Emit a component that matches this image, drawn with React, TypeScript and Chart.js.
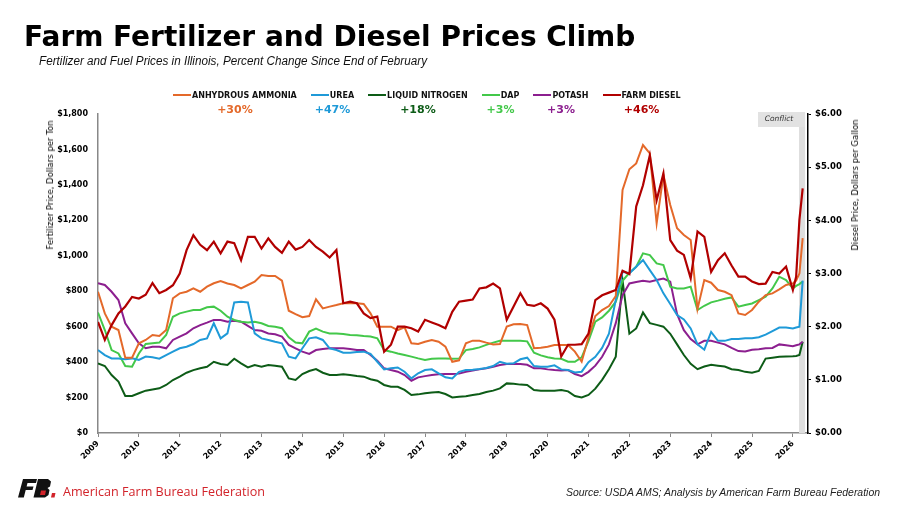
import React, { useEffect, useLayoutEffect, useRef } from 'react';
import { Chart, registerables } from 'chart.js';

Chart.register(...registerables);

// ---------- DATA ----------
const dates = [
  2009.0, 2009.167, 2009.333, 2009.5, 2009.667, 2009.833,
  2010.0, 2010.167, 2010.333, 2010.5, 2010.667, 2010.833,
  2011.0, 2011.167, 2011.333, 2011.5, 2011.667, 2011.833,
  2012.0, 2012.167, 2012.333, 2012.5, 2012.667, 2012.833,
  2013.0, 2013.167, 2013.333, 2013.5, 2013.667, 2013.833,
  2014.0, 2014.167, 2014.333, 2014.5, 2014.667, 2014.833,
  2015.0, 2015.167, 2015.333, 2015.5, 2015.667, 2015.833,
  2016.0, 2016.167, 2016.333, 2016.5, 2016.667, 2016.833,
  2017.0, 2017.167, 2017.333, 2017.5, 2017.667, 2017.833,
  2018.0, 2018.167, 2018.333, 2018.5, 2018.667, 2018.833,
  2019.0, 2019.167, 2019.333, 2019.5, 2019.667, 2019.833,
  2020.0, 2020.167, 2020.333, 2020.5, 2020.667, 2020.833,
  2021.0, 2021.167, 2021.333, 2021.5, 2021.667, 2021.833,
  2022.0, 2022.167, 2022.333, 2022.5, 2022.667, 2022.833,
  2023.0, 2023.167, 2023.333, 2023.5, 2023.667, 2023.833,
  2024.0, 2024.167, 2024.333, 2024.5, 2024.667, 2024.833,
  2025.0, 2025.167, 2025.333, 2025.5, 2025.667, 2025.833,
  2026.0, 2026.08, 2026.16, 2026.24,
];

// Fertilizer prices, dollars per ton
const anhydrousAmmonia = [
  797, 675, 600, 581, 425, 425, 506, 525, 553, 547,
  581, 760, 788, 797, 816, 797, 826, 845, 858, 844,
  835, 816, 835, 854, 891, 886, 886, 860, 690, 671,
  653, 660, 754, 703, 713, 722, 732, 732, 732, 728,
  675, 600, 600, 600, 581, 596, 506, 502, 515, 525,
  515, 487, 402, 410, 506, 521, 521, 510, 500, 502,
  600, 613, 615, 609, 478, 481, 487, 497, 497, 497,
  459, 402, 540, 660, 694, 716, 773, 1371, 1488, 1521,
  1625, 1578, 1183, 1456, 1286, 1155, 1117, 1089, 700, 863,
  848, 807, 797, 778, 675, 666, 694, 741, 778, 788,
  810, 835, 844, 860, 900, 1100,
];

const urea = [
  468, 440, 421, 421, 416, 421, 412, 431, 427, 419,
  440, 459, 478, 487, 502, 525, 534, 619, 534, 562,
  737, 741, 737, 562, 534, 525, 515, 506, 431, 421,
  478, 534, 540, 525, 478, 468, 453, 453, 457, 459,
  446, 402, 359, 365, 370, 346, 308, 337, 355, 359,
  337, 314, 308, 345, 355, 357, 361, 367, 378, 402,
  391, 393, 416, 425, 378, 374, 374, 382, 359, 355,
  342, 346, 400, 430, 480, 560, 750, 910, 901, 938,
  976, 919, 863, 788, 728, 666, 641, 590, 500, 470,
  570, 520, 520, 530, 530, 535, 535, 540, 555, 575,
  595, 595, 590, 595, 600, 860,
];

const liquidNitrogen = [
  393, 378, 327, 290, 209, 209, 224, 239, 246, 252,
  271, 299, 318, 340, 355, 365, 374, 402, 389, 384,
  419, 393, 370, 384, 374, 384, 380, 374, 308, 299,
  333, 350, 361, 340, 327, 327, 331, 327, 321, 318,
  303, 295, 271, 261, 261, 243, 214, 218, 224, 229,
  231, 220, 201, 205, 207, 214, 220, 231, 239, 252,
  280, 278, 273, 271, 243, 239, 239, 239, 243, 235,
  209, 201, 215, 250, 300, 360, 430, 860, 560, 590,
  680, 620, 610, 600, 560, 500, 440, 390, 360, 375,
  385, 380, 375, 360, 355, 345, 340, 350, 420, 425,
  430, 432, 433, 435, 440, 515,
];

const dap = [
  680, 581, 468, 449, 378, 374, 449, 502, 506, 510,
  553, 656, 675, 685, 694, 694, 709, 713, 690, 656,
  638, 628, 623, 628, 619, 604, 600, 591, 540, 510,
  506, 572, 589, 572, 562, 562, 559, 553, 551, 547,
  544, 534, 468, 459, 449, 440, 431, 421, 412, 419,
  421, 421, 419, 420, 468, 474, 483, 497, 510, 521,
  521, 521, 521, 517, 453, 438, 427, 421, 419, 402,
  402, 427, 520, 628, 652, 690, 741, 859, 904, 938,
  1014, 1004, 957, 948, 826, 816, 816, 826, 694, 718,
  737, 747, 758, 765, 713, 722, 731, 750, 769, 816,
  882, 863, 816, 830, 840, 855,
];

const potash = [
  845, 835, 797, 750, 619, 562, 506, 478, 487, 487,
  478, 525, 544, 562, 591, 609, 623, 638, 638, 628,
  634, 628, 604, 581, 577, 562, 557, 544, 497, 478,
  459, 446, 468, 474, 478, 478, 478, 474, 468, 468,
  440, 408, 365, 355, 346, 327, 295, 314, 321, 327,
  331, 333, 333, 335, 346, 352, 359, 365, 374, 384,
  389, 389, 389, 385, 365, 365, 359, 355, 352, 355,
  333, 321, 345, 380, 430, 500, 620, 778, 844, 852,
  859, 854, 863, 871, 854, 671, 580, 530, 500, 520,
  520, 510, 500, 480, 462, 460, 470, 472, 478, 480,
  500, 495, 490, 495, 500, 515,
];

// Diesel price, dollars per gallon
const farmDiesel = [
  2.09, 1.75, 2.03, 2.25, 2.38, 2.56, 2.53, 2.60, 2.82, 2.63,
  2.69, 2.78, 3.00, 3.44, 3.72, 3.54, 3.44, 3.60, 3.38, 3.60,
  3.57, 3.25, 3.69, 3.69, 3.47, 3.66, 3.50, 3.39, 3.60, 3.45,
  3.50, 3.63, 3.50, 3.41, 3.30, 3.44, 2.44, 2.47, 2.44, 2.25,
  2.16, 2.19, 1.53, 1.66, 2.00, 2.00, 1.97, 1.91, 2.13, 2.08,
  2.03, 1.97, 2.28, 2.47, 2.49, 2.51, 2.72, 2.74, 2.81, 2.72,
  2.13, 2.38, 2.63, 2.41, 2.39, 2.44, 2.34, 2.13, 1.44, 1.66,
  1.66, 1.67, 1.87, 2.50, 2.59, 2.64, 2.69, 3.05, 2.99, 4.26,
  4.66, 5.22, 4.38, 4.88, 3.63, 3.43, 3.35, 2.91, 3.79, 3.69,
  3.03, 3.25, 3.38, 3.15, 2.94, 2.94, 2.85, 2.80, 2.81, 3.03,
  3.00, 3.13, 2.69, 2.94, 4.01, 4.60,
];

const yearTicks = [
  2009, 2010, 2011, 2012, 2013, 2014, 2015, 2016, 2017,
  2018, 2019, 2020, 2021, 2022, 2023, 2024, 2025, 2026,
];

const seriesNames = ['ANHYDROUS AMMONIA', 'UREA', 'LIQUID NITROGEN', 'DAP', 'POTASH', 'FARM DIESEL'];
const percentChanges = ['+30%', '+47%', '+18%', '+3%', '+3%', '+46%'];
const conflictStart = 2026.15;
const conflictEnd = 2026.3;
const conflictLabel = 'Conflict';

// ---------- STYLE ----------
const seriesColors = ['#E4692A', '#1F9AD8', '#0D5C17', '#43C84A', '#8C1F8F', '#B10000'];
const FONT = '"DejaVu Sans", Verdana, sans-serif';

function FitText({ width, style, children }: { width: number; style?: React.CSSProperties; children: React.ReactNode }) {
  const ref = useRef<HTMLSpanElement>(null);
  useLayoutEffect(() => {
    const el = ref.current;
    if (!el) return;
    el.style.transform = 'none';
    const w = el.getBoundingClientRect().width;
    if (w > 0) el.style.transform = `scaleX(${width / w})`;
  }, [width]);
  return (
    <span
      ref={ref}
      style={{ display: 'inline-block', whiteSpace: 'nowrap', transformOrigin: 'left center', ...style }}
    >
      {children}
    </span>
  );
}

const conflictPlugin = {
  id: 'conflictBand',
  beforeDatasetsDraw(chart: any) {
    const { ctx, chartArea, scales } = chart;
    const x0 = scales.x.getPixelForValue(conflictStart);
    const x1 = scales.x.getPixelForValue(conflictEnd);
    ctx.save();
    ctx.fillStyle = '#DEDEDE';
    ctx.fillRect(x0, chartArea.top + 13, x1 - x0, chartArea.bottom - chartArea.top - 13);
    ctx.fillStyle = '#E2E2E2';
    ctx.fillRect(x0 - 41, chartArea.top - 2, 41 + (x1 - x0), 15);
    ctx.fillStyle = '#333';
    ctx.font = `italic 7.5px ${FONT}`;
    ctx.textAlign = 'center';
    ctx.textBaseline = 'middle';
    ctx.fillText(conflictLabel, x0 - 20, chartArea.top + 5.5);
    ctx.restore();
  },
};

export default function App() {
  const canvasRef = useRef<HTMLCanvasElement>(null);

  useEffect(() => {
    document.body.style.margin = '0';
    const canvas = canvasRef.current;
    if (!canvas) return;
    const toPoints = (vals: number[]) => vals.map((v, i) => ({ x: dates[i], y: v }));
    const fertilizer = [anhydrousAmmonia, urea, liquidNitrogen, dap, potash];
    const drawOrder = [1, 2, 5, 3, 4];
    const datasets: any[] = fertilizer.map((vals, i) => ({
      label: seriesNames[i],
      data: toPoints(vals),
      borderColor: seriesColors[i],
      backgroundColor: seriesColors[i],
      borderWidth: 2,
      pointRadius: 0,
      tension: 0,
      yAxisID: 'y',
      order: drawOrder[i],
    }));
    datasets.push({
      label: seriesNames[5],
      data: toPoints(farmDiesel),
      borderColor: seriesColors[5],
      backgroundColor: seriesColors[5],
      borderWidth: 2.2,
      pointRadius: 0,
      tension: 0,
      yAxisID: 'y1',
      order: 0,
    });

    const tickFont = { family: FONT, size: 8, weight: 'bold' as const };
    const chart = new Chart(canvas, {
      type: 'line',
      data: { datasets },
      plugins: [conflictPlugin],
      options: {
        animation: false,
        responsive: true,
        maintainAspectRatio: false,
        layout: { padding: { top: 114, left: 0, right: 0, bottom: 0 } },
        plugins: {
          legend: { display: false },
          tooltip: { enabled: false },
          title: { display: false },
        },
        scales: {
          x: {
            type: 'linear',
            min: 2009,
            max: 2026.37,
            afterBuildTicks: (s: any) => {
              s.ticks = yearTicks.map((v) => ({ value: v }));
            },
            afterFit: (s: any) => {
              s.height = 73;
            },
            ticks: {
              autoSkip: false,
              maxRotation: 45,
              minRotation: 45,
              padding: 2,
              color: '#000',
              font: tickFont,
              callback: (v: any) => String(v),
            },
            grid: { display: true, drawOnChartArea: false, drawTicks: true, tickLength: 4, color: '#888' },
            border: { display: true, color: '#888', width: 1.5 },
          },
          y: {
            position: 'left',
            min: 0,
            max: 1800,
            afterFit: (s: any) => {
              s.width = 98;
            },
            ticks: {
              stepSize: 200,
              padding: 10,
              color: '#000',
              font: tickFont,
              callback: (v: any) => '$' + Number(v).toLocaleString('en-US'),
            },
            grid: { display: false, drawTicks: false },
            border: { display: true, color: '#888', width: 1.5 },
          },
          y1: {
            position: 'right',
            min: 0,
            max: 6,
            afterFit: (s: any) => {
              s.width = 92;
            },
            ticks: {
              stepSize: 1,
              padding: 4,
              color: '#000',
              font: { family: FONT, size: 8.5, weight: 'bold' as const },
              callback: (v: any) => '$' + Number(v).toFixed(2),
            },
            grid: { display: true, drawOnChartArea: false, drawTicks: true, tickLength: 3, color: '#000' },
            border: { display: true, color: '#000', width: 1.5 },
          },
        },
      } as any,
    });
    return () => chart.destroy();
  }, []);

  return (
    <div style={{ position: 'relative', width: 900, height: 506, background: '#fff', overflow: 'hidden', fontFamily: FONT }}>
      <div style={{ position: 'absolute', left: 0, top: 0, width: 900, height: 506 }}>
        <canvas ref={canvasRef} />
      </div>

      <div
        style={{
          position: 'absolute', left: 24, top: 23, fontSize: 28, lineHeight: '28px',
          fontWeight: 'bold', color: '#000', whiteSpace: 'nowrap', fontFamily: FONT,
        }}
      >
        Farm Fertilizer and Diesel Prices Climb
      </div>
      <div style={{ position: 'absolute', left: 39, top: 53, lineHeight: '14px' }}>
        <FitText width={388} style={{ fontFamily: '"Liberation Sans", Arial, sans-serif', fontStyle: 'italic', fontSize: 12.5, color: '#111' }}>
          Fertilizer and Fuel Prices in Illinois, Percent Change Since End of February
        </FitText>
      </div>

      <div style={{ position: 'absolute', left: 173, top: 89, display: 'flex', gap: 14 }}>
        {seriesNames.map((name, i) => (
          <div key={name} style={{ display: 'flex', flexDirection: 'column', alignItems: 'center' }}>
            <div style={{ display: 'flex', alignItems: 'center', height: 12 }}>
              <span style={{ display: 'inline-block', width: 18, height: 2.5, background: seriesColors[i], marginRight: 1 }} />
              <span style={{ fontSize: 8, fontWeight: 'bold', color: '#111', whiteSpace: 'nowrap', fontFamily: FONT }}>{name}</span>
            </div>
            <div style={{ fontSize: 11, fontWeight: 'bold', color: seriesColors[i], lineHeight: '14px', marginTop: 2, fontFamily: FONT }}>
              {percentChanges[i]}
            </div>
          </div>
        ))}
      </div>

      <div
        style={{
          position: 'absolute', left: 50, top: 185, transform: 'translate(-50%, -50%) rotate(-90deg)',
          fontSize: 8.5, color: '#000', whiteSpace: 'nowrap', fontFamily: FONT,
        }}
      >
        Fertilizer Price, Dollars per Ton
      </div>
      <div
        style={{
          position: 'absolute', left: 855, top: 185, transform: 'translate(-50%, -50%) rotate(-90deg)',
          fontSize: 8.5, color: '#000', whiteSpace: 'nowrap', fontFamily: FONT,
        }}
      >
        Diesel Price, Dollars per Gallon
      </div>

      <svg style={{ position: 'absolute', left: 17, top: 479 }} width={40} height={19} viewBox="0 0 40 19">
        <polygon points="6,0 20,0 19,4 10.5,4 9.6,7.5 16.5,7.5 15.5,11 8.7,11 6.8,18.5 1,18.5" fill="#111" />
        <polygon points="21,0 31,0 34,2.5 33,7.5 30.5,9 32.5,11 31.5,16 28,18.5 16.5,18.5" fill="#111" />
        <polygon points="24,11.5 29,11.5 28,16 23,16" fill="#D2232A" />
        <polygon points="35,14 38.5,14 37.5,18.5 34,18.5" fill="#D2232A" />
      </svg>
      <div style={{ position: 'absolute', left: 63, top: 483, lineHeight: '16px' }}>
        <FitText width={202} style={{ fontFamily: '"Open Sans", "Liberation Sans", sans-serif', fontSize: 13, color: '#D2232A' }}>
          American Farm Bureau Federation
        </FitText>
      </div>
      <div style={{ position: 'absolute', left: 566, top: 484, lineHeight: '14px' }}>
        <FitText width={314} style={{ fontFamily: '"Liberation Sans", Arial, sans-serif', fontStyle: 'italic', fontSize: 10, color: '#222' }}>
          Source: USDA AMS; Analysis by American Farm Bureau Federation
        </FitText>
      </div>
    </div>
  );
}
